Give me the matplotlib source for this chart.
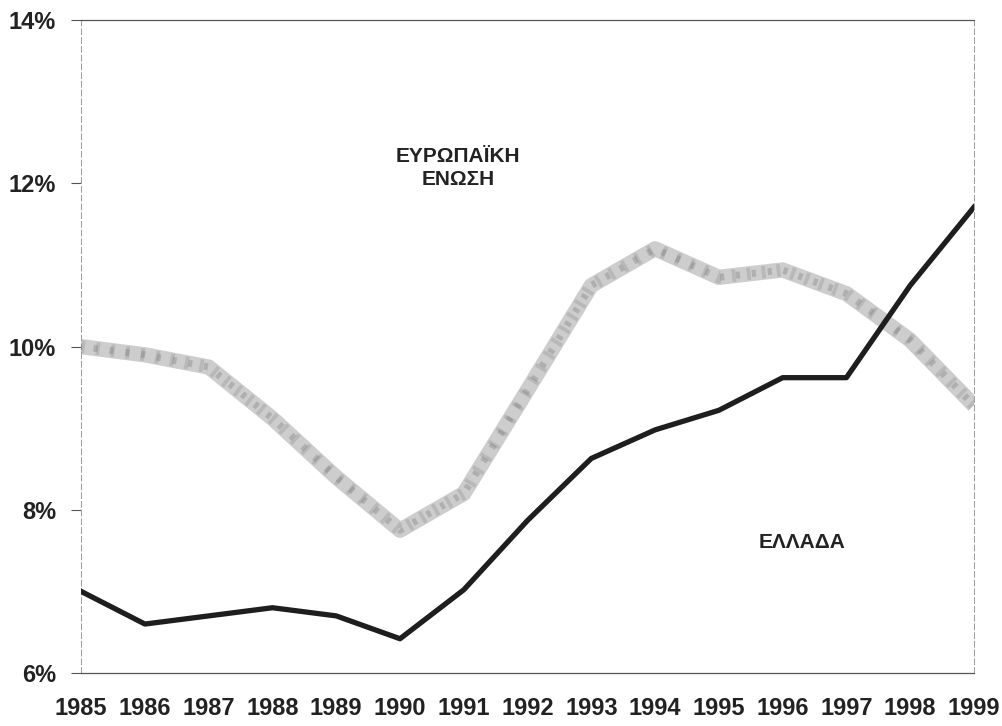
import matplotlib.pyplot as plt
from matplotlib.ticker import FuncFormatter

plt.rcParams['font.family'] = ['Liberation Sans', 'DejaVu Sans']

years = list(range(1985, 2000))
eu = [10.0, 9.9, 9.75, 9.12, 8.4, 7.75, 8.2, 9.47, 10.75, 11.2, 10.85, 10.94, 10.65, 10.08, 9.28]
greece = [7.0, 6.6, 6.7, 6.8, 6.7, 6.42, 7.02, 7.87, 8.63, 8.98, 9.22, 9.62, 9.62, 10.75, 11.71]
y_ticks = [6, 8, 10, 12, 14]

fig = plt.figure(figsize=(10.02, 7.26), dpi=100)
ax = fig.add_axes([0.081, 0.073, 0.891, 0.899])

# thick grey band for the EU, with a speckled overlay
ax.plot(years, eu, color='#cdcdcd', lw=11, solid_capstyle='butt', solid_joinstyle='round', zorder=2)
ax.plot(years, eu, color='#7a7a7a', lw=9, ls=(0, (0.3, 0.9)), alpha=0.25, zorder=3)
ax.plot(years, eu, color='#6a6a6a', lw=5, ls=(0.5, (0.6, 1.7)), alpha=0.3, zorder=3)
ax.plot(years, greece, color='#1e1e1e', lw=3.8, solid_joinstyle='round', zorder=4)

ax.text(1990.91, 12.19, 'ΕΥΡΩΠΑΪΚΗ\nΕΝΩΣΗ', ha='center', va='center',
        fontsize=15, fontweight='bold', color='#222222', linespacing=1.25)
ax.text(1996.3, 7.6, 'ΕΛΛΑΔΑ', ha='center', va='center',
        fontsize=15, fontweight='bold', color='#222222')

ax.set_xlim(1985, 1999)
ax.set_ylim(6, 14)
ax.set_xticks(years)
ax.set_yticks(y_ticks)
ax.yaxis.set_major_formatter(FuncFormatter(lambda v, p: f'{v:.0f}%'))

for side in ['left', 'right']:
    ax.spines[side].set_color('#9a9a9a')
    ax.spines[side].set_linewidth(0.7)
    ax.spines[side].set_linestyle((0, (6, 3)))
for side in ['top', 'bottom']:
    ax.spines[side].set_color('#555555')
    ax.spines[side].set_linewidth(0.9)

ax.tick_params(axis='y', length=7, width=0.8, color='#555555', pad=11, labelsize=17)
ax.tick_params(axis='x', length=0, pad=17, labelsize=17)
for lab in ax.get_xticklabels() + ax.get_yticklabels():
    lab.set_fontweight('bold')
    lab.set_color('#222222')

fig.savefig('out.png', dpi=100)
